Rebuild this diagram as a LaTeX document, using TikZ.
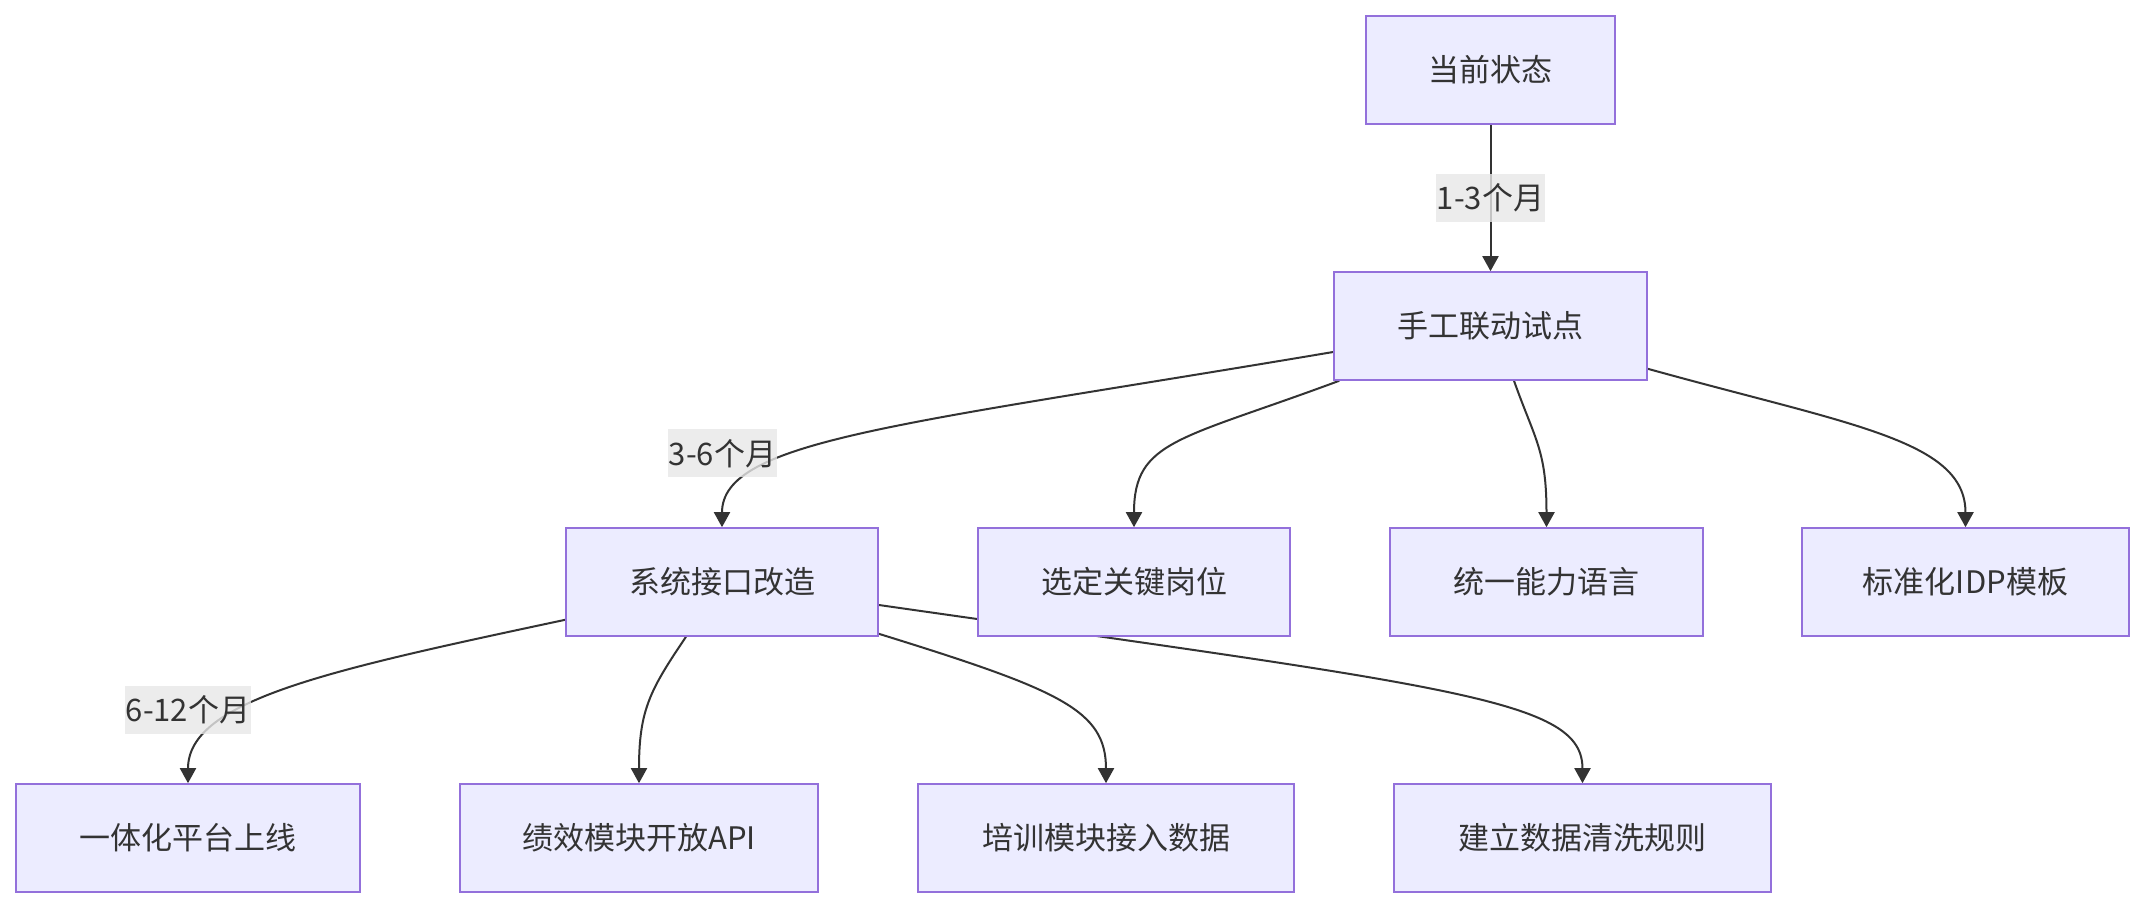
\documentclass[tikz,border=0pt]{standalone}
\usepackage{fontspec}
\setmainfont{Noto Sans CJK SC}
\usetikzlibrary{arrows.meta,calc}
\definecolor{boxfill}{HTML}{ECECFF}
\definecolor{boxline}{HTML}{9370DB}
\definecolor{edgeline}{HTML}{333333}
\definecolor{txt}{HTML}{333333}
\definecolor{lblbg}{HTML}{E8E8E8}
\pgfdeclarelayer{bglayer}
\pgfdeclarelayer{edgelayer}
\pgfsetlayers{bglayer,edgelayer,main}
\tikzset{
  box/.style={draw=boxline, fill=boxfill, line width=0.8pt, text=txt,
    minimum width=#1*0.5pt, minimum height=54pt, inner sep=0pt,
    font=\fontsize{15.5pt}{18pt}\selectfont},
  lbl/.style={fill=lblbg, fill opacity=0.8, text opacity=1, text=txt,
    inner sep=0pt, minimum height=24pt, minimum width=#1*0.5pt,
    font=\fontsize{15.5pt}{18pt}\selectfont},
  conn/.style={draw=edgeline, line width=1pt,
    -{Triangle[length=7.5pt,width=8pt]}},
}
\begin{document}
\begin{tikzpicture}[x=0.5pt,y=-0.5pt]
\begin{pgfonlayer}{bglayer}
\fill[white] (0,0) rectangle (2144,908);
\end{pgfonlayer}
\useasboundingbox (0,0) rectangle (2144,908);

\node[box=249] (A) at (1490.5,70) {当前状态};
\node[box=313] (B) at (1490.5,326) {手工联动试点};
\node[box=312] (C) at (722,582) {系统接口改造};
\node[box=312] (D) at (1134,582) {选定关键岗位};
\node[box=313] (E) at (1546.5,582) {统一能力语言};
\node[box=327] (F) at (1965.5,582) {标准化IDP模板};
\node[box=344] (G) at (188,838) {一体化平台上线};
\node[box=358] (H) at (639,838) {绩效模块开放API};
\node[box=376] (I) at (1106,838) {培训模块接入数据};
\node[box=377] (J) at (1582.5,838) {建立数据清洗规则};

\begin{pgfonlayer}{edgelayer}
\draw[conn] (A.south) -- (B.north);
\draw[conn] ($(B.west)+(0,26)$) .. controls (900,425) and (722,440) .. (C.north);
\draw[conn] ($(B.south west)+(6,0)$) .. controls (1180,440) and (1134,440) .. (D.north);
\draw[conn] ($(B.south)+(23.5,0)$) .. controls (1535,440) and (1546.5,450) .. (E.north);
\draw[conn] ($(B.south east)+(0,-12)$) .. controls (1850,425) and (1965.5,440) .. (F.north);
\draw[conn] ($(C.south west)+(0,-17)$) .. controls (330,670) and (188,700) .. (G.north);
\draw[conn] ($(C.south)+(-36,0)$) .. controls (650,690) and (639,710) .. (H.north);
\draw[conn] ($(C.south east)+(0,-3)$) .. controls (1060,690) and (1106,710) .. (I.north);
\draw[conn] ($(C.east)+(0,23)$) .. controls (1460,688) and (1582.5,700) .. (J.north);
\end{pgfonlayer}

\node[lbl=109] (l1) at (1490.5,198) {1-3个月};
\node[lbl=109] (l2) at (722.5,453.5) {3-6个月};
\node[lbl=126] (l3) at (188,710) {6-12个月};
\end{tikzpicture}
\end{document}
